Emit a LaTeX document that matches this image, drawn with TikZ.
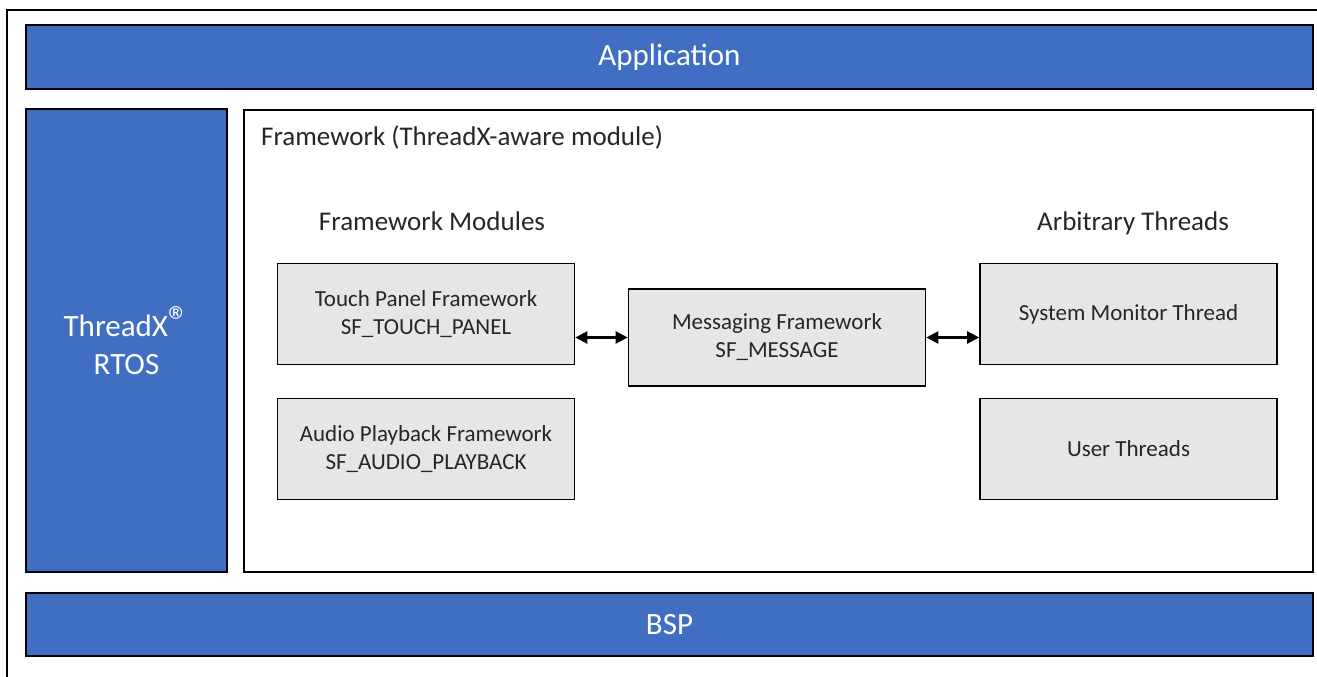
\documentclass[tikz,border=0pt]{standalone}
\usepackage{fontspec}
\setmainfont{Carlito}
\usepackage{tikz}
\usetikzlibrary{arrows.meta}
\definecolor{layerblue}{HTML}{3F6EC3}
\definecolor{boxgray}{HTML}{E7E6E6}
\definecolor{txtgray}{HTML}{262626}

\begin{document}
\begin{tikzpicture}[x=1pt, y=-1pt,
    layer/.style={draw=black, line width=2pt, fill=layerblue, text=white, font=\fontsize{31}{38}\selectfont, align=center, inner sep=0pt},
    module/.style={draw=black, line width=1.6pt, fill=boxgray, text=txtgray, font=\fontsize{23}{28}\selectfont, align=center, minimum width=297pt, minimum height=101pt, inner sep=0pt},
    title/.style={text=txtgray, font=\fontsize{27}{32}\selectfont, inner sep=0pt},
    link/.style={line width=2.2pt, {Triangle[length=12pt,width=12pt]}-{Triangle[length=12pt,width=12pt]}}]
            \useasboundingbox (0,0) rectangle (1317,677);
            \fill[white] (0,0) rectangle (1317,677);
            \draw[line width=2pt] (7,677) -- (7,10) -- (1317,10);
            \node[layer, minimum width=1287pt, minimum height=64pt] (app) at (669.5,57) {Application};
            \node[layer, minimum width=201pt, minimum height=463pt] (rtos) at (126.5,340.5) {ThreadX\raisebox{0.05em}{\fontsize{42}{42}\selectfont\textregistered}\\RTOS};
            \node[draw=black, line width=1.6pt, fill=white, minimum width=1069pt, minimum height=462pt, inner sep=0pt] (fw) at (778.5,341) {};
            \node[layer, minimum width=1287pt, minimum height=63pt] (bsp) at (669.5,624.5) {BSP};
            \node[title, anchor=base west] (fwlabel) at (261,145) {Framework (ThreadX-aware module)};
            \node[title, anchor=base] (modtitle) at (432,230) {Framework Modules};
            \node[title, anchor=base] (thrtitle) at (1133,230) {Arbitrary Threads};
            \node[module] (touch) at (426,314) {Touch Panel Framework\\SF\_TOUCH\_PANEL};
            \node[module] (audio) at (426,449) {Audio Playback Framework\\SF\_AUDIO\_PLAYBACK};
            \node[module, minimum height=97pt] (msg) at (777,337.5) {Messaging Framework\\SF\_MESSAGE};
            \node[module] (sysmon) at (1128.5,314) {System Monitor Thread};
            \node[module] (user) at (1128.5,449) {User Threads};
            \draw[link] (touch.east |- msg.west) -- (msg.west);
            \draw[link] (msg.east) -- (sysmon.west |- msg.east);
        \end{tikzpicture}
\end{document}
